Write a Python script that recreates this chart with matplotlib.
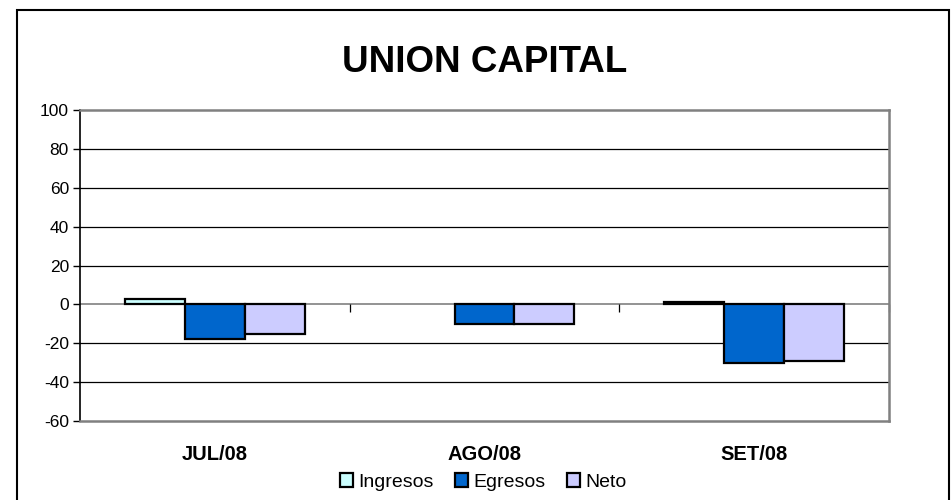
import numpy as np
import matplotlib
matplotlib.use('Agg')
import matplotlib.pyplot as plt
import matplotlib.patches as mpatches

plt.rcParams['font.family'] = ['Liberation Sans', 'DejaVu Sans']
plt.rcParams['axes.unicode_minus'] = False

months = ['JUL/08', 'AGO/08', 'SET/08']
series = ['Ingresos', 'Egresos', 'Neto']
ingresos = [3, 0, 1]
egresos = [-18, -10, -30]
neto = [-15, -10, -29]
colors = ['#CCFFFF', '#0066CC', '#CCCCFF']
yticks = [-60, -40, -20, 0, 20, 40, 60, 80, 100]

W, H = 951, 500
fig = plt.figure(figsize=(W / 100, H / 100), dpi=100)

# outer chart border
fig.patches.append(mpatches.Rectangle((17 / W, -0.02), (949 - 17) / W, (490 / H) + 0.02,
                                      transform=fig.transFigure, fill=False,
                                      edgecolor='black', linewidth=1.5))

ax = fig.add_axes([80 / W, (H - 421) / H, (889 - 80) / W, (421 - 110) / H])

x = np.arange(len(months))
width = 60 / 270
for i, (name, vals) in enumerate(zip(series, [ingresos, egresos, neto])):
    lws = [1.6 if v != 0 else 0 for v in vals]
    ax.bar(x + (i - 1) * width, vals, width, color=colors[i], edgecolor='black',
           linewidth=lws, label=name, zorder=3)

ax.set_xlim(-0.5, len(months) - 0.5)
ax.set_ylim(yticks[0], yticks[-1])

for y in yticks[1:-1]:
    if y != 0:
        ax.axhline(y, color='black', linewidth=0.9, zorder=1)
ax.axhline(0, color='#808080', linewidth=1.2, zorder=2)

# category boundary ticks on the zero line
bounds = np.arange(len(months)) + 0.5
ax.vlines(bounds, -4, 0, color='black', linewidth=0.9, zorder=2, clip_on=False)

ax.set_yticks(yticks)
ax.tick_params(axis='y', length=5, width=1, labelsize=12.5, pad=3)
ax.set_xticks(x)
ax.set_xticklabels(months, fontsize=14.5, fontweight='bold')
ax.tick_params(axis='x', length=0, pad=17)

for side in ['top', 'right', 'bottom']:
    ax.spines[side].set_color('#808080')
    ax.spines[side].set_linewidth(1.8)
ax.spines['left'].set_color('black')
ax.spines['left'].set_linewidth(1.2)

fig.text(485 / W, 1 - 62 / H, 'UNION CAPITAL', fontsize=26.5, fontweight='bold',
         ha='center', va='center')

fig.legend(loc='center', bbox_to_anchor=(483 / W, 1 - 482 / H), ncol=3, frameon=False,
           fontsize=14, handlelength=0.7, handleheight=0.7, handletextpad=0.25,
           columnspacing=1.1, borderaxespad=0)

fig.savefig('out.png', dpi=100)
